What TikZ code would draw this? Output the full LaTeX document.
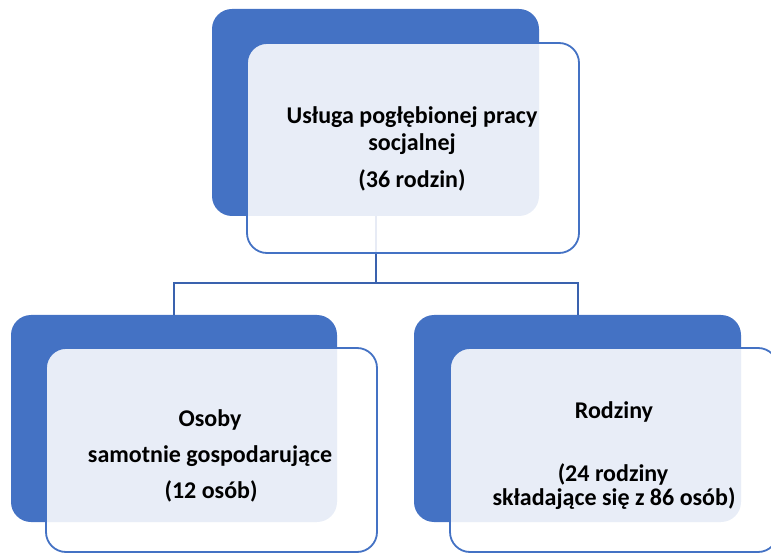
\documentclass[tikz,border=0pt]{standalone}
\usepackage{fontspec}
\setmainfont{Carlito}
\definecolor{accent}{HTML}{4472C4}
\definecolor{linkblue}{HTML}{3A62AE}
\begin{document}
\begin{tikzpicture}[x=1pt,y=-1pt,
  backbox/.style={draw=none, fill=accent, rounded corners=20pt, inner sep=0pt, outer sep=0pt},
  frontbox/.style={draw=accent, line width=1.8pt, fill=white, fill opacity=0.88, rounded corners=20pt, inner sep=0pt, outer sep=0pt},
  link/.style={draw=linkblue, line width=2pt},
  label/.style={font=\bfseries\fontsize{24}{28}\selectfont, anchor=base, inner sep=0pt, text=black}]
\useasboundingbox (0,0) rectangle (771,553);
\begin{scope}
\clip (0,0) rectangle (771,553);
% back boxes
\node[backbox, minimum width=327pt, minimum height=207pt] (topback) at (375.5,112.5) {};
\node[backbox, minimum width=326pt, minimum height=207pt] (leftback) at (174,418.5) {};
\node[backbox, minimum width=327pt, minimum height=207pt] (rightback) at (577.5,418.5) {};
% connectors
\coordinate (hub) at (375.5,283);
\draw[link] (topback.south) -- (hub);
\draw[link] (leftback.north) |- (hub) -| (rightback.north);
% front boxes
\node[frontbox, minimum width=332pt, minimum height=210pt] (topfront) at (413,148) {};
\node[frontbox, minimum width=331pt, minimum height=204pt] (leftfront) at (211.5,450) {};
\node[frontbox, minimum width=328pt, minimum height=204pt] (rightfront) at (614,450) {};
\end{scope}
% texts
\node[label] (t1) at (412,124) {Usługa pogłębionej pracy};
\node[label] (t2) at (412,151) {socjalnej};
\node[label] (t3) at (412,188) {(36 rodzin)};
\node[label] (l1) at (210,426) {Osoby};
\node[label] (l2) at (210,462) {samotnie gospodarujące};
\node[label] (l3) at (211,498) {(12 osób)};
\node[label] (r1) at (614,418) {Rodziny};
\node[label] (r2) at (613,481) {(24 rodziny};
\node[label] (r3) at (614,505) {składające się z 86 osób)};
\end{tikzpicture}
\end{document}
